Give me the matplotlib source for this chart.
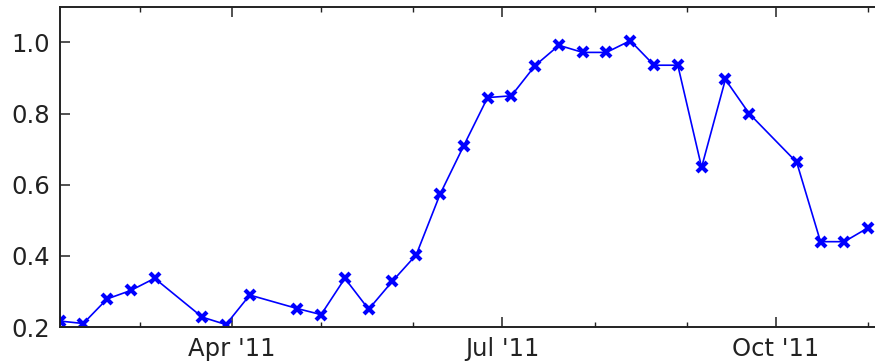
import datetime as dt
import matplotlib
matplotlib.use("Agg")
import matplotlib.pyplot as plt
import matplotlib.dates as mdates

# 8-day composite dates (day of year, 2011) and values
doy = [33, 41, 49, 57, 65, 81, 89, 97, 113, 121, 129, 137, 145, 153, 161, 169,
       177, 185, 193, 201, 209, 217, 225, 233, 241, 249, 257, 265, 281, 289, 297, 305]
values = [0.217, 0.210, 0.279, 0.303, 0.337, 0.228, 0.207, 0.290, 0.252, 0.235,
          0.337, 0.250, 0.329, 0.403, 0.573, 0.710, 0.845, 0.850, 0.935, 0.992,
          0.972, 0.972, 1.005, 0.936, 0.936, 0.649, 0.896, 0.800, 0.663, 0.440,
          0.440, 0.479]

dates = [dt.date(2011, 1, 1) + dt.timedelta(days=d - 1) for d in doy]


def main():
    fig = plt.figure(figsize=(8.75, 3.61), dpi=100)
    # axes runs off the right edge like the cropped original
    ax = fig.add_axes([0.068, 0.094, 1.026, 0.887])

    ax.plot(dates, values, color="#0000ff", linestyle="-", linewidth=1.2,
            marker="x", markersize=7.5, markeredgewidth=3.0, clip_on=True)

    ax.set_xlim(dt.date(2011, 2, 2), dt.date(2011, 12, 1))
    ax.set_ylim(0.2, 1.1)
    ax.set_yticks([0.2, 0.4, 0.6, 0.8, 1.0])

    ax.xaxis.set_major_locator(mdates.MonthLocator(bymonth=[1, 4, 7, 10]))
    ax.xaxis.set_minor_locator(mdates.MonthLocator())
    ax.xaxis.set_major_formatter(mdates.DateFormatter("%b '%y"))

    for s in ax.spines.values():
        s.set_linewidth(1.4)
        s.set_color("#222222")

    ax.tick_params(which="both", direction="in", top=True, right=True,
                   labelsize=17.5, colors="#222222")
    ax.tick_params(which="major", length=7, width=1.1, pad=7)
    ax.tick_params(which="minor", length=3.5, width=1.0)

    fig.savefig("out.png", dpi=100)
    plt.close(fig)


if __name__ == "__main__":
    main()
